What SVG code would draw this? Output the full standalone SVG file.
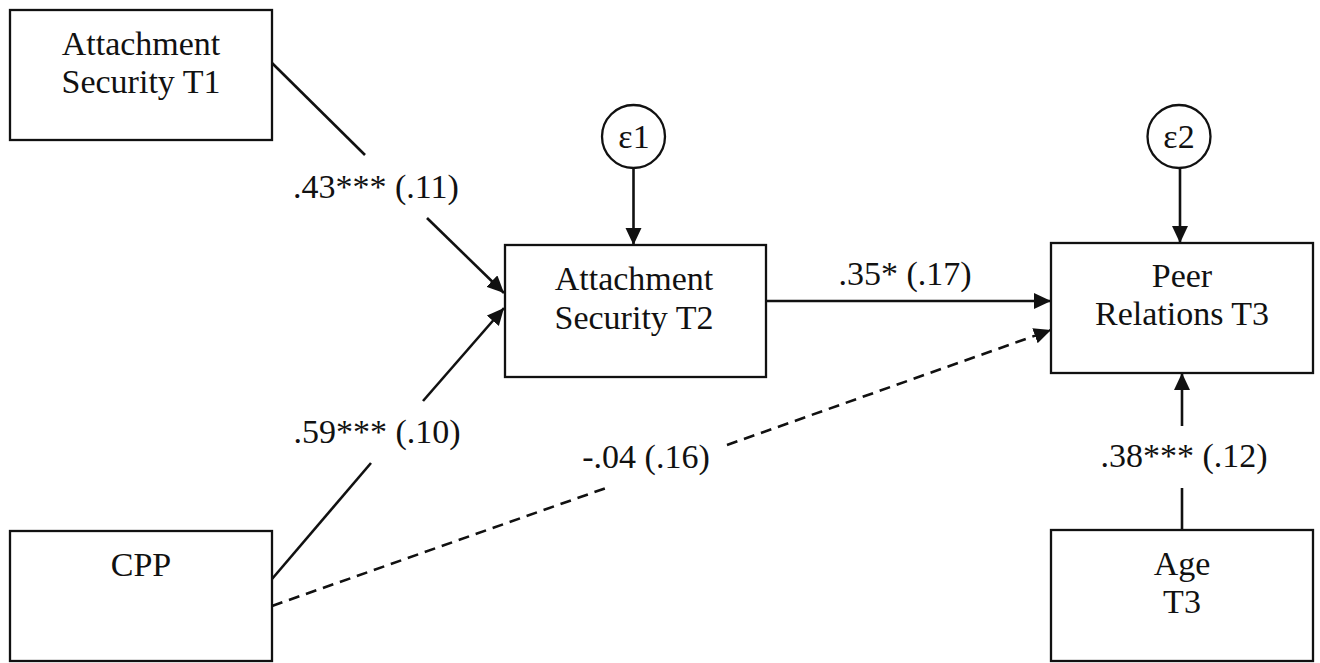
<svg xmlns="http://www.w3.org/2000/svg" width="1320" height="663" viewBox="0 0 1320 663">
<style>
.box{fill:#fff;stroke:#111;stroke-width:2.3}
.circ{fill:#fff;stroke:#111;stroke-width:2.3}
.t{font-family:"Liberation Serif","Times New Roman",serif;font-size:34px;fill:#111;text-anchor:middle}
.e{font-family:"Liberation Serif","Times New Roman",serif;font-size:34px;fill:#111;text-anchor:middle}
.ln{stroke:#111;stroke-width:2.6;fill:none}
.dash{stroke-dasharray:11 7}
</style>
<defs>
<marker id="ah" markerUnits="userSpaceOnUse" markerWidth="19" markerHeight="18" refX="17" refY="8" orient="auto">
<path d="M0,0 L17,8 L0,16 z" fill="#111"/>
</marker>
</defs>
<rect width="1320" height="663" fill="#fff"/>
<g id="connectors">
<line class="ln" x1="272" y1="63" x2="365" y2="155"/>
<line class="ln" x1="427" y1="218" x2="504" y2="293" marker-end="url(#ah)"/>
<line class="ln" x1="272" y1="579" x2="371" y2="463"/>
<line class="ln" x1="423" y1="401" x2="504" y2="308" marker-end="url(#ah)"/>
<line class="ln" x1="766" y1="301" x2="1051" y2="301" marker-end="url(#ah)"/>
<line class="ln dash" x1="272" y1="606" x2="606" y2="488"/>
<line class="ln dash" x1="727" y1="445" x2="1051" y2="330" marker-end="url(#ah)"/>
<line class="ln" x1="633.5" y1="168" x2="633.5" y2="245" marker-end="url(#ah)"/>
<line class="ln" x1="1180" y1="168" x2="1180" y2="243" marker-end="url(#ah)"/>
<line class="ln" x1="1182" y1="530" x2="1182" y2="488"/>
<line class="ln" x1="1182" y1="426" x2="1182" y2="373" marker-end="url(#ah)"/>
<text class="t" x="376" y="198">.43*** (.11)</text>
<text class="t" x="377" y="443">.59*** (.10)</text>
<text class="t" x="905" y="285">.35* (.17)</text>
<text class="t" x="646" y="468">-.04 (.16)</text>
<text class="t" x="1184" y="467">.38*** (.12)</text>
</g>
<g id="n_as1">
<rect class="box" x="10" y="10" width="262" height="130"/>
<text class="t" x="141" y="55">Attachment</text>
<text class="t" x="141" y="93">Security T1</text>
</g>
<g id="n_cpp">
<rect class="box" x="10" y="531" width="262" height="130"/>
<text class="t" x="141" y="576">CPP</text>
</g>
<g id="n_as2">
<rect class="box" x="505" y="245" width="261" height="132"/>
<text class="t" x="634" y="290">Attachment</text>
<text class="t" x="634" y="329">Security T2</text>
</g>
<g id="n_e1">
<circle class="circ" cx="633.5" cy="136.5" r="31.5"/>
<text class="e" x="634" y="148">ε1</text>
</g>
<g id="n_peer">
<rect class="box" x="1051" y="243" width="262" height="130"/>
<text class="t" x="1182" y="287">Peer</text>
<text class="t" x="1182" y="325">Relations T3</text>
</g>
<g id="n_e2">
<circle class="circ" cx="1179" cy="136.5" r="31.5"/>
<text class="e" x="1179" y="148">ε2</text>
</g>
<g id="n_age">
<rect class="box" x="1051" y="530" width="262" height="131"/>
<text class="t" x="1182" y="575">Age</text>
<text class="t" x="1182" y="613">T3</text>
</g>
</svg>
